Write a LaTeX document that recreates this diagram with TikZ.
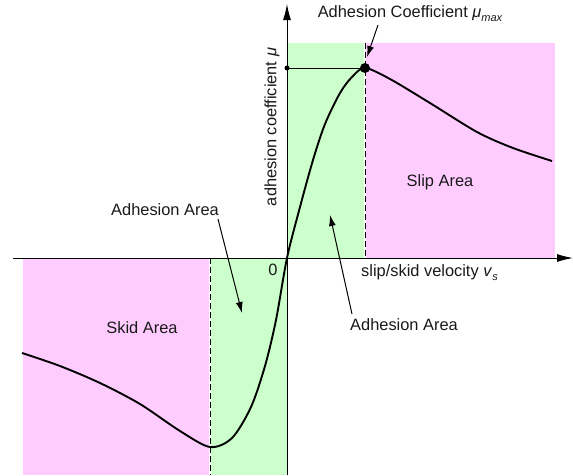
\documentclass[tikz,border=0pt]{standalone}
\usepackage{fontspec}
\setmainfont{Liberation Sans}
\usetikzlibrary{arrows.meta}
\definecolor{areagreen}{HTML}{CCFFCC}
\definecolor{areapink}{HTML}{FFCCFF}
\newcommand\subtxt[1]{\raisebox{-0.45ex}{\fontsize{11}{11}\selectfont\itshape #1}}
\begin{document}
\begin{tikzpicture}[x=1pt,y=-1pt,
  font=\fontsize{16.4}{19}\selectfont,
  lbl/.style={inner sep=0pt, text=black!90},
  axisline/.style={line width=1pt, -{Latex[length=16pt,width=8pt]}},
  lblarrow/.style={line width=1pt, -{Latex[length=11pt,width=7pt]}},
  borderline/.style={line width=1pt, dash pattern=on 6pt off 3pt},
  curveline/.style={line width=1.9pt, line join=round}]
\useasboundingbox (0,0) rectangle (573,475);
% areas
\fill[areagreen] (287,43) rectangle (365,258);
\fill[areapink] (365,43) rectangle (555,258);
\fill[areapink] (23,258) rectangle (210,475);
\fill[areagreen] (210,258) rectangle (287,475);
% borders between areas
\coordinate (ub1) at (365,43);
\coordinate (ub2) at (365,258);
\coordinate (lb1) at (210,258);
\coordinate (lb2) at (210,475);
\draw[white, line width=2pt] (ub1) -- (ub2);
\draw[white, line width=2pt] (lb1) -- (lb2);
\draw[borderline] (ub1) -- (ub2);
\draw[borderline] (lb1) -- (lb2);
% axes
\coordinate (xs) at (13,258);
\coordinate (xe) at (573,258);
\coordinate (ys) at (287,475);
\coordinate (ye) at (287,4);
\draw[axisline] (xs) -- (xe);
\draw[axisline] (ys) -- (ye);
% max level
\coordinate (maxpt) at (365,68);
\coordinate (maxax) at (287,68);
\draw[line width=1pt] (maxax) -- (maxpt);
\fill (maxax) circle (2.5);
% curve
\draw[curveline] plot[smooth, tension=0.5] coordinates {
 (22,353) (60,366) (100,383) (140,404) (180,431) (210,447) (232,438)
 (251,407) (265,366) (276,320) (287,258) (300,207) (313,160) (325,124)
 (340,93) (352,77) (365,68) (390,79) (430,103) (477,132) (513,148) (552,161)};
\fill (maxpt) circle (5);
% labels
\node[lbl] (coef) at (410,14) {Adhesion Coefficient \textit{μ}\subtxt{max}};
\coordinate (coeft) at (378,25);
\coordinate (coefh) at (367,57);
\draw[lblarrow] (coeft) -- (coefh);
\node[lbl, rotate=90] (ylab) at (272,127) {adhesion coefficient \textit{μ}};
\node[lbl] (zero) at (273,270) {0};
\node[lbl, anchor=west] (xlab) at (361,273) {slip/skid velocity \textit{v}\subtxt{s}};
\node[lbl] (slip) at (440,182) {Slip Area};
\node[lbl] (skid) at (142,328) {Skid Area};
\node[lbl] (adh1) at (165,210) {Adhesion Area};
\coordinate (adh1t) at (218,219);
\coordinate (adh1h) at (242,313);
\draw[lblarrow] (adh1t) -- (adh1h);
\node[lbl] (adh2) at (404,325) {Adhesion Area};
\coordinate (adh2t) at (352,314);
\coordinate (adh2h) at (330,215);
\draw[lblarrow] (adh2t) -- (adh2h);
\end{tikzpicture}
\end{document}
